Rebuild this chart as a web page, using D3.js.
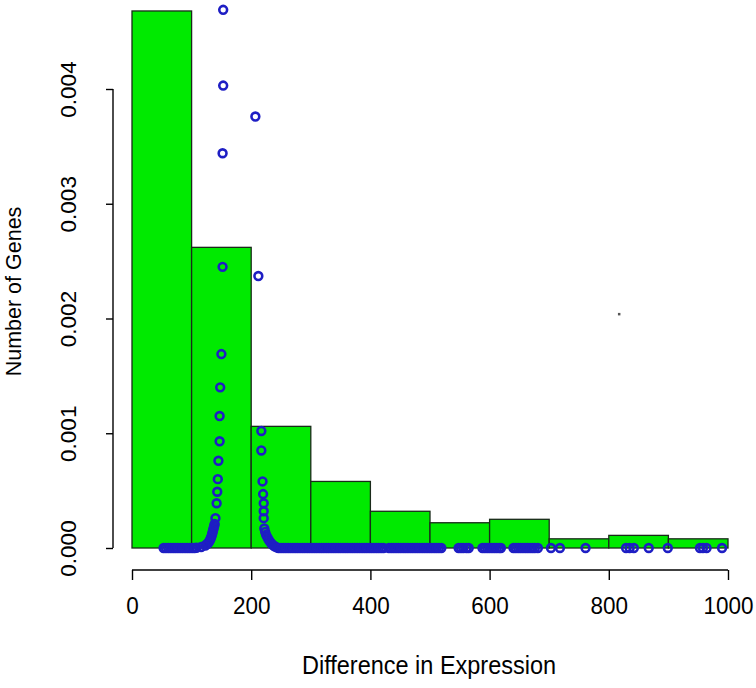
<!DOCTYPE html>
<html>
<head>
<meta charset="utf-8">
<script src="https://cdn.jsdelivr.net/npm/d3@7"></script>
<style>
  html, body { margin: 0; padding: 0; background: #ffffff; }
  svg { display: block; }
  text { font-family: "Liberation Sans", Arial, sans-serif; fill: #000; }
</style>
</head>
<body>
<svg id="chart" width="756" height="688"></svg>
<script>
// ---- Data ----
const binEdges = [0, 100, 200, 300, 400, 500, 600, 700, 800, 900, 1000];
const binDensity = [0.00468, 0.00262, 0.00106, 0.00058, 0.00032, 0.00022, 0.00025, 0.00008, 0.00011, 0.00008];

const xTicks = [0, 200, 400, 600, 800, 1000];
const yTicks = [0, 0.001, 0.002, 0.003, 0.004];
const yTickLabels = ["0.000", "0.001", "0.002", "0.003", "0.004"];

// points away from baseline: x values and densities
const peakX = [153, 153, 152, 152, 150, 148, 147, 147, 145, 144, 143, 142, 140,
  138.7, 137.9, 137, 136.2, 135.3, 134.5, 133.6, 132.3, 131, 129.5, 128, 125.5, 123, 116, 108,
  207, 212, 217, 217, 219, 220, 221, 221, 221, 222,
  223.5, 225, 227, 229, 231, 233, 235, 237.5, 240, 243];
const peakY = [0.00469, 0.00403, 0.00344, 0.00245, 0.00169, 0.00140, 0.00115, 0.00093, 0.00076, 0.00060, 0.00049, 0.00039, 0.00026,
  0.000209, 0.000192, 0.000174, 0.000157, 0.000139, 0.000122, 0.000105, 0.000087, 0.00007, 0.000057, 0.000044, 0.000033, 0.000022, 0.000009, 0.000002,
  0.00376, 0.00237, 0.00102, 0.00085, 0.00058, 0.00047, 0.00039, 0.00032, 0.00026, 0.00017,
  0.00014, 0.000115, 0.000095, 0.000075, 0.000058, 0.000045, 0.000032, 0.000022, 0.000012, 0.000005];

// points lying on (essentially) zero density
const baselineX = [53, 57, 61, 65, 69, 73, 77, 81, 85, 89, 93, 97, 101, 105,
  246, 250, 254, 258, 262, 266, 270, 274, 278, 282, 286, 290, 294, 298, 302, 306, 310, 314, 318, 322,
  326, 330, 334, 338, 342, 346, 350, 354, 358, 362, 366, 370, 374, 378, 382, 386, 390, 394, 398, 402,
  406, 410, 414, 418, 422,
  431, 435, 439, 443, 447, 451, 455, 459, 463, 467, 471, 475, 479, 483, 487, 491, 495, 499, 503, 507,
  511, 515, 519,
  548, 552, 556, 561, 565,
  588, 592, 596, 600, 604, 608, 612, 616, 619,
  640, 644, 648, 652, 656, 660, 664, 668, 672, 676, 681, 703, 718,
  761, 829, 835, 842, 867, 899, 953, 958, 964, 990];

const strayDot = [[817, 0.00204]];

// ---- Drawing ----
const svg = d3.select("#chart");
const x = d3.scaleLinear().domain([0, 1000]).range([132, 728]);
const y = d3.scaleLinear().domain([0, 0.004]).range([548, 89]);

const bins = binDensity.map((d, i) => ({ x0: binEdges[i], x1: binEdges[i + 1], d }));

svg.append("g").selectAll("rect").data(bins).join("rect")
  .attr("x", d => x(d.x0))
  .attr("y", d => y(d.d))
  .attr("width", d => x(d.x1) - x(d.x0))
  .attr("height", d => y(0) - y(d.d))
  .attr("fill", "#00ea00")
  .attr("stroke", "#1a2a1a")
  .attr("stroke-width", 1.3);

const pts = peakX.map((v, i) => [v, peakY[i]]).concat(baselineX.map(v => [v, 0]));
svg.append("g").selectAll("circle").data(pts).join("circle")
  .attr("cx", d => x(d[0]))
  .attr("cy", d => y(d[1]))
  .attr("r", 3.9)
  .attr("fill", "none")
  .attr("stroke", "#1e1ec4")
  .attr("stroke-width", 2.6);

svg.append("g").selectAll("rect").data(strayDot).join("rect")
  .attr("x", d => x(d[0]) - 1)
  .attr("y", d => y(d[1]) - 1)
  .attr("width", 2.5).attr("height", 2.5)
  .attr("fill", "#555");

// Y axis (R style)
const yAxis = d3.axisLeft(y).tickValues(yTicks).tickFormat((d, i) => yTickLabels[i]).tickSizeOuter(0).tickSize(7);
const gy = svg.append("g").attr("transform", "translate(113,0)").call(yAxis);
gy.select(".domain").attr("stroke", "#000").attr("stroke-width", 1.4).attr("d", `M0,${y(0)}V${y(0.004)}`);
gy.selectAll(".tick line").attr("stroke", "#000").attr("stroke-width", 1.4);
gy.selectAll(".tick text")
  .attr("font-size", 22.5)
  .attr("font-family", "Liberation Sans, Arial, sans-serif")
  .attr("x", 0).attr("dy", 0)
  .attr("text-anchor", "middle")
  .attr("transform", "translate(-37,0) rotate(-90)")
  .attr("y", 0);

// X axis
const xAxis = d3.axisBottom(x).tickValues(xTicks).tickFormat(d3.format("d")).tickSizeOuter(0).tickSize(10);
const gx = svg.append("g").attr("transform", "translate(0,570)").call(xAxis);
gx.select(".domain").attr("stroke", "#000").attr("stroke-width", 1.4).attr("d", `M${x(0)},0H${x(1000)}`);
gx.selectAll(".tick line").attr("stroke", "#000").attr("stroke-width", 1.4);
gx.selectAll(".tick text")
  .attr("font-size", 22.5)
  .attr("font-family", "Liberation Sans, Arial, sans-serif")
  .attr("y", 0).attr("dy", 0)
  .attr("transform", "translate(0,44) scale(1,1.1)");

// Titles
svg.append("text")
  .attr("transform", `translate(${x(500) - 1},674) scale(1,1.08)`)
  .attr("text-anchor", "middle")
  .attr("font-size", 23.5)
  .text("Difference in Expression");

svg.append("text")
  .attr("transform", `translate(21,${y(0.002) - 27}) rotate(-90)`)
  .attr("text-anchor", "middle")
  .attr("font-size", 21.5)
  .text("Number of Genes");
</script>
</body>
</html>
